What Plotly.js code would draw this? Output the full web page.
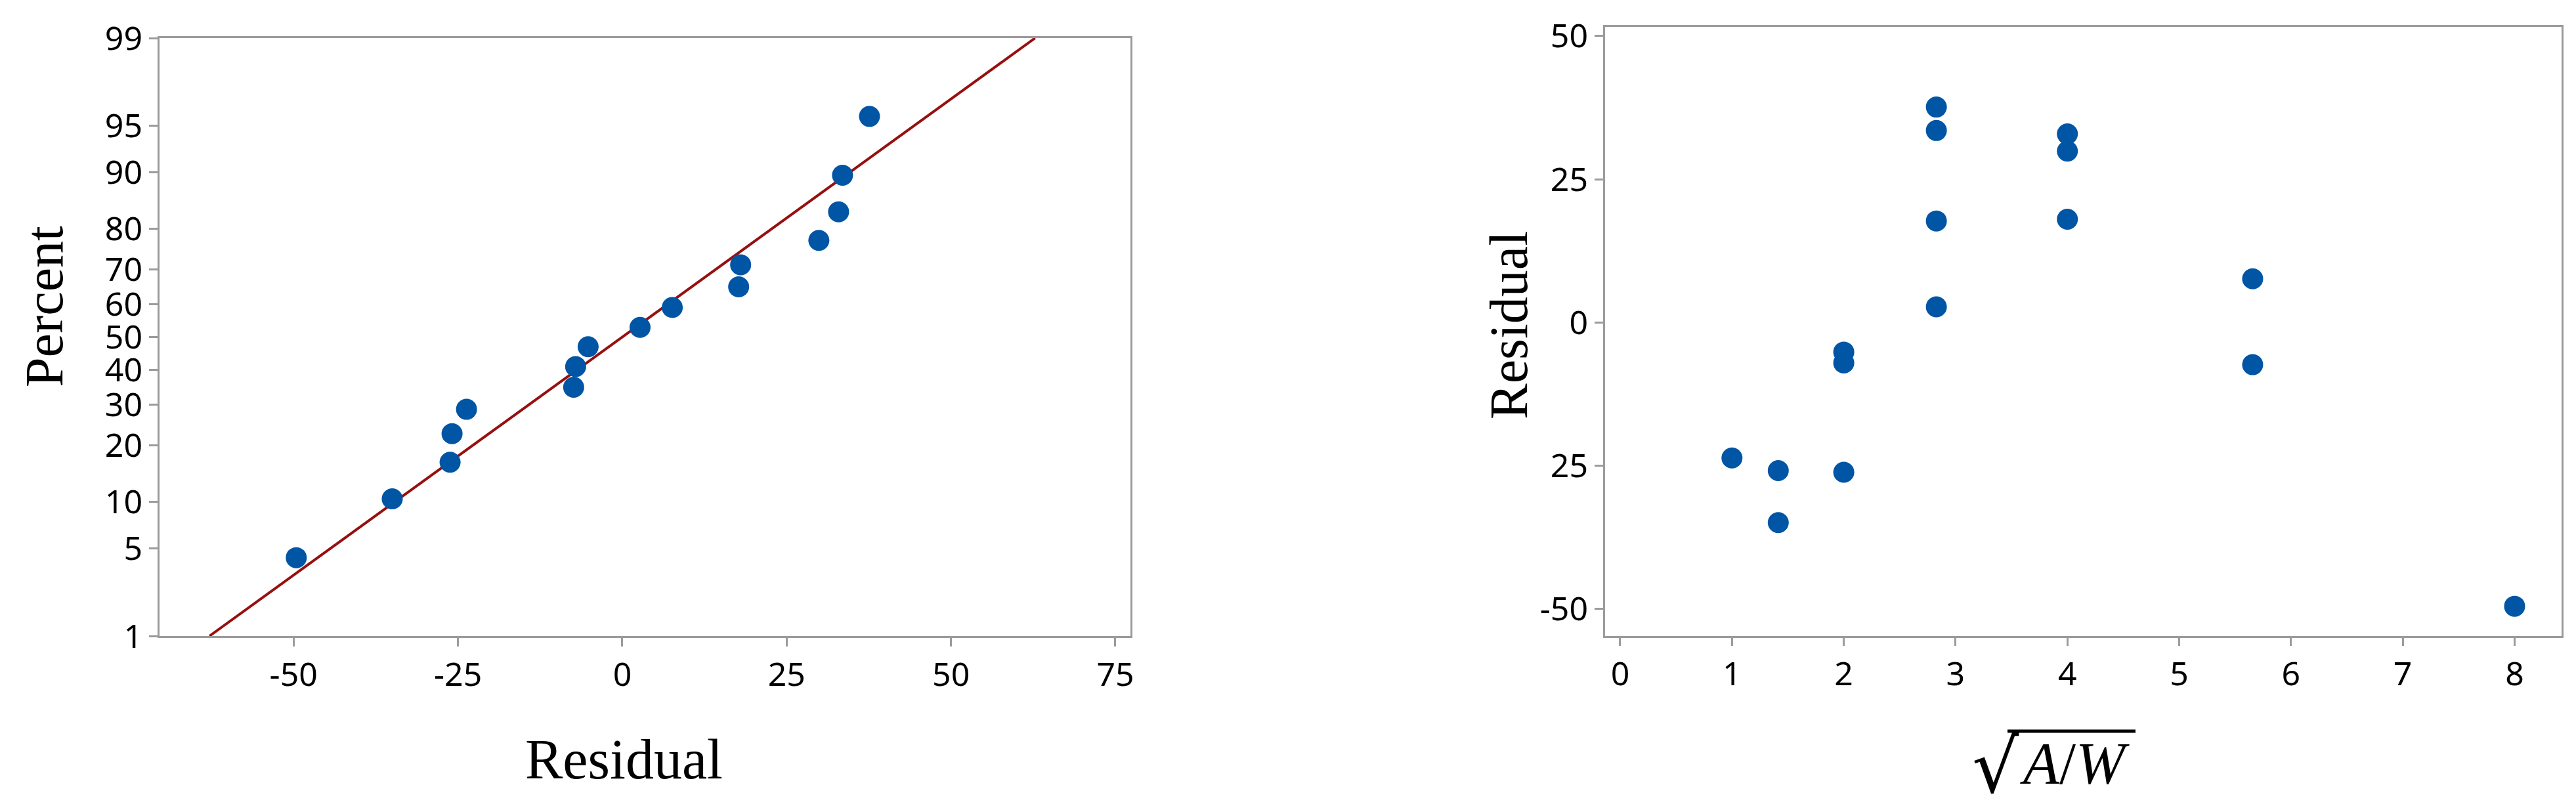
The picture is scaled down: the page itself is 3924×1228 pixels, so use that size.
<!DOCTYPE html>
<html>
<head>
<meta charset="utf-8">
<script src="https://cdn.plot.ly/plotly-3.0.1.min.js"></script>
<style>
  html, body { margin: 0; padding: 0; background: white; }
  #chart { width: 3924px; height: 1228px; }
</style>
</head>
<body>
<div id="chart"></div>
<script>
// normal probability plot data (residuals, sorted) and plotting positions (%)
const probResidual = [-49.6, -35.0, -26.2, -25.9, -23.7, -7.4, -7.1, -5.2, 2.7, 7.6, 17.7, 18.0, 29.9, 32.9, 33.5, 37.6];
const probPercent = [4.3, 10.4, 16.5, 22.6, 28.7, 34.8, 40.9, 47.0, 53.0, 59.1, 65.2, 71.3, 77.4, 83.5, 89.6, 95.7];

// fitted normal line end points
const fitResidual = [-62.8, 62.8];
const fitPercent = [1, 99];

// residuals versus sqrt(A/W)
const sqrtAW = [1, 1.414, 1.414, 2, 2, 2, 2.828, 2.828, 2.828, 2.828, 4, 4, 4, 5.657, 5.657, 8];
const residual = [-23.7, -25.9, -35.0, -5.2, -7.1, -26.2, 37.6, 33.5, 17.7, 2.7, 32.9, 29.9, 18.0, 7.6, -7.4, -49.6];

// tick labels
const pctTicks = [1, 5, 10, 20, 30, 40, 50, 60, 70, 80, 90, 95, 99];
const probXTicks = [-50, -25, 0, 25, 50, 75];
const probXText = ['-50', '-25', '0', '25', '50', '75'];
const residTickVals = [-50, -25, 0, 25, 50];
const residTickText = ['-50', '25', '0', '25', '50'];
const awTicks = [0, 1, 2, 3, 4, 5, 6, 7, 8];

const COLORS = {
  point: '#0055A5',
  fit: '#961010',
  frame: '#9B9B9B',
};

// inverse standard normal (Acklam) -> probability axis
function normInv(p) {
  const a = [-3.969683028665376e+01, 2.209460984245205e+02, -2.759285104469687e+02, 1.383577518672690e+02, -3.066479806614716e+01, 2.506628277459239e+00];
  const b = [-5.447609879822406e+01, 1.615858368580409e+02, -1.556989798598866e+02, 6.680131188771972e+01, -1.328068155288572e+01];
  const c = [-7.784894002430293e-03, -3.223964580411365e-01, -2.400758277161838e+00, -2.549732539343734e+00, 4.374664141464968e+00, 2.938163982698783e+00];
  const d = [7.784695709041462e-03, 3.224671290700398e-01, 2.445134137142996e+00, 3.754408661907416e+00];
  const pl = 0.02425;
  let q, r;
  if (p < pl) {
    q = Math.sqrt(-2 * Math.log(p));
    return (((((c[0]*q+c[1])*q+c[2])*q+c[3])*q+c[4])*q+c[5]) / ((((d[0]*q+d[1])*q+d[2])*q+d[3])*q+1);
  }
  if (p <= 1 - pl) {
    q = p - 0.5; r = q * q;
    return (((((a[0]*r+a[1])*r+a[2])*r+a[3])*r+a[4])*r+a[5])*q / (((((b[0]*r+b[1])*r+b[2])*r+b[3])*r+b[4])*r+1);
  }
  q = Math.sqrt(-2 * Math.log(1 - p));
  return -(((((c[0]*q+c[1])*q+c[2])*q+c[3])*q+c[4])*q+c[5]) / ((((d[0]*q+d[1])*q+d[2])*q+d[3])*q+1);
}
const toZ = pct => normInv(pct / 100);

const W = 3924, H = 1228;
const px = x => x / W;
const py = y => 1 - y / H;

const tickFont = { family: 'Noto Sans, sans-serif', size: 50, color: '#000' };
const axisBase = {
  showline: true,
  mirror: true,
  linecolor: COLORS.frame,
  linewidth: 3,
  ticks: 'outside',
  ticklen: 13,
  tickwidth: 3,
  tickcolor: COLORS.frame,
  showgrid: false,
  zeroline: false,
  tickfont: tickFont,
  fixedrange: true,
};

const data = [
  {
    type: 'scatter',
    mode: 'lines',
    x: fitResidual,
    y: fitPercent.map(toZ),
    line: { color: COLORS.fit, width: 4 },
    xaxis: 'x', yaxis: 'y',
    hoverinfo: 'skip',
  },
  {
    type: 'scatter',
    mode: 'markers',
    x: probResidual,
    y: probPercent.map(toZ),
    text: probPercent.map(String),
    marker: { color: COLORS.point, size: 32 },
    xaxis: 'x', yaxis: 'y',
    hovertemplate: '%{x}, %{text}%<extra></extra>',
  },
  {
    type: 'scatter',
    mode: 'markers',
    x: sqrtAW,
    y: residual,
    marker: { color: COLORS.point, size: 32 },
    xaxis: 'x2', yaxis: 'y2',
    hovertemplate: '%{x}, %{y}<extra></extra>',
  },
];

const serif = 'Liberation Serif, Times New Roman, serif';
const titleFont = { family: serif, size: 86, color: '#000' };
const yTitleFont = { family: serif, size: 82, color: '#000' };

const layout = {
  width: W,
  height: H,
  margin: { t: 0, r: 0, b: 0, l: 0 },
  paper_bgcolor: 'white',
  plot_bgcolor: 'white',
  showlegend: false,
  xaxis: {
    ...axisBase,
    domain: [px(243), px(1722)],
    range: [-70.4, 77.3],
    tickvals: probXTicks,
    ticktext: probXText,
    anchor: 'y',
  },
  yaxis: {
    ...axisBase,
    domain: [py(969), py(58)],
    range: [toZ(1), toZ(99)],
    tickvals: pctTicks.map(toZ),
    ticktext: pctTicks.map(String),
    anchor: 'x',
  },
  xaxis2: {
    ...axisBase,
    domain: [px(2445), px(3902)],
    range: [-0.135, 8.42],
    tickvals: awTicks,
    ticklen: 12,
    anchor: 'y2',
  },
  yaxis2: {
    ...axisBase,
    domain: [py(969), py(41)],
    range: [-54.8, 51.6],
    tickvals: residTickVals,
    ticktext: residTickText,
    anchor: 'x2',
  },
  annotations: [
    { text: 'Residual', x: px(950), y: py(1157), xref: 'paper', yref: 'paper',
      xanchor: 'center', yanchor: 'middle', showarrow: false, font: titleFont },
    { text: 'Percent', x: px(67), y: py(467), xref: 'paper', yref: 'paper',
      xanchor: 'center', yanchor: 'middle', textangle: -90, showarrow: false, font: yTitleFont },
    { text: 'Residual', x: px(2299), y: py(496), xref: 'paper', yref: 'paper',
      xanchor: 'center', yanchor: 'middle', textangle: -90, showarrow: false, font: yTitleFont },
    // square root sign and its argument
    { text: '√', x: px(3040), y: py(1168), xref: 'paper', yref: 'paper',
      xanchor: 'center', yanchor: 'middle', showarrow: false,
      font: { family: 'DejaVu Serif, serif', size: 112, color: '#000' } },
    { text: '<i>A</i>/<i>W</i>', x: px(3160), y: py(1163), xref: 'paper', yref: 'paper',
      xanchor: 'center', yanchor: 'middle', showarrow: false,
      font: { family: serif, size: 90, color: '#000' } },
  ],
  shapes: [
    // overbar of the square root
    { type: 'line', xref: 'paper', yref: 'paper', x0: px(3058), x1: px(3253), y0: py(1114), y1: py(1114),
      line: { color: '#000', width: 5 } },
  ],
};

Plotly.newPlot('chart', data, layout, { displayModeBar: false, staticPlot: true });
</script>
</body>
</html>
